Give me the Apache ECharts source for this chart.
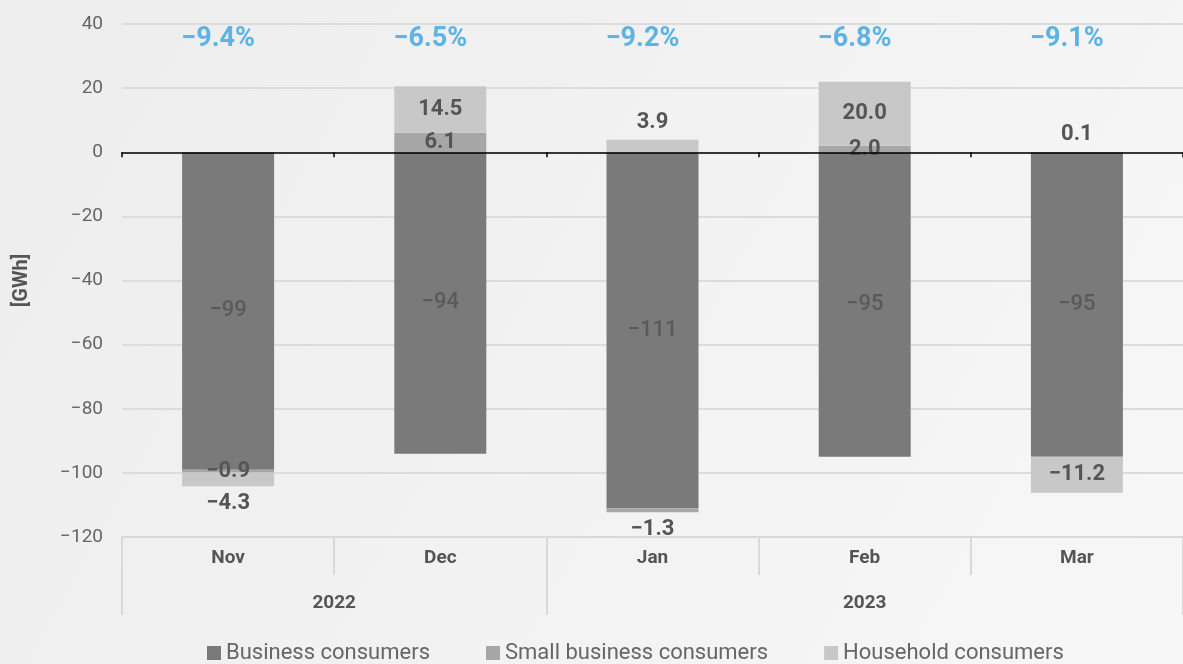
<!DOCTYPE html>
<html>
<head>
<meta charset="utf-8">
<script src="https://cdn.jsdelivr.net/npm/echarts@6/dist/echarts.min.js"></script>
<style>
  html, body { margin: 0; padding: 0; }
  #chart { width: 1183px; height: 664px; }
</style>
</head>
<body>
<div id="chart"></div>
<script>
const months = ['Nov', 'Dec', 'Jan', 'Feb', 'Mar'];
const years = ['2022', '2023'];
const yearSpans = [2, 3];
const pctChange = [-9.4, -6.5, -9.2, -6.8, -9.1];

const business = [-99, -94, -111, -95, -95];
const smallBusiness = [-0.9, 6.1, -1.3, 2.0, 0.1];
const household = [-4.3, 14.5, 3.9, 20.0, -11.2];

const FONT = 'Roboto';
const minus = (s) => String(s).replace('-', '\u2212');

// where each small label goes (picked per bar, like the original)
const smallPos = ['inside', 'inside', 'bottom', 'inside', 'top'];
const housePos = ['bottom', 'inside', 'top', 'inside', 'inside'];

// half-step category axis for the year row
const yearSlots = [];
const yearLabelAt = {};
const yearBounds = [0];
let start = 0;
years.forEach((y, i) => {
  yearLabelAt[start + yearSpans[i]] = y; // centre of the span, in half-month steps
  start += yearSpans[i] * 2;
  yearBounds.push(start);
});
for (let i = 0; i <= months.length * 2; i++) yearSlots.push('s' + i);

const withPos = (vals, pos) => vals.map((v, i) => ({
  value: v,
  label: { position: pos[i] }
}));

const chart = echarts.init(document.getElementById('chart'));

const option = {
  backgroundColor: {
    type: 'linear', x: 0, y: 0, x2: 1, y2: 1,
    colorStops: [{ offset: 0, color: '#ededed' }, { offset: 1, color: '#f7f7f7' }]
  },
  textStyle: { fontFamily: FONT },
  grid: { left: 122, right: 0, top: 24, bottom: 127 },
  legend: {
    top: 642,
    left: 207,
    padding: 0,
    icon: 'rect',
    itemWidth: 14,
    itemHeight: 14,
    itemGap: 56,
    textStyle: { fontSize: 22, color: '#666', fontFamily: FONT },
    data: ['Business consumers', 'Small business consumers', 'Household consumers']
  },
  xAxis: [
    {
      type: 'category',
      data: months,
      position: 'bottom',
      axisLine: { onZero: true, lineStyle: { color: '#000', width: 1.5 } },
      axisTick: { show: true, interval: 0, length: 5, lineStyle: { color: '#000', width: 1.5 } },
      axisLabel: { show: false },
      z: 10
    },
    {
      type: 'category',
      data: months,
      position: 'bottom',
      axisLine: { onZero: false, lineStyle: { color: '#d9d9d9', width: 2 } },
      axisTick: { show: true, interval: 0, length: 38, lineStyle: { color: '#d9d9d9', width: 2 } },
      axisLabel: { interval: 0, margin: 12, fontSize: 19, fontWeight: 'bold', color: '#555', fontFamily: FONT }
    },
    {
      type: 'category',
      data: yearSlots,
      boundaryGap: false,
      position: 'bottom',
      axisLine: { show: false, onZero: false },
      axisTick: {
        show: true, length: 78,
        interval: (i) => yearBounds.indexOf(i) >= 0,
        lineStyle: { color: '#d9d9d9', width: 2 }
      },
      axisLabel: {
        interval: (i) => yearLabelAt[i] !== undefined,
        formatter: (v, i) => yearLabelAt[i] || '',
        margin: 57, fontSize: 19, fontWeight: 'bold', color: '#555', fontFamily: FONT
      }
    },
    {
      type: 'category',
      data: pctChange.map(v => minus(v.toFixed(1)) + '%'),
      position: 'top',
      axisLine: { show: false },
      axisTick: { show: false },
      axisLabel: {
        inside: true, interval: 0, margin: 2,
        padding: [0, 20, 0, 0],
        fontSize: 27, fontWeight: 'bold', color: '#5cb3e6', fontFamily: FONT
      }
    }
  ],
  yAxis: {
    type: 'value',
    min: -120,
    max: 40,
    interval: 20,
    name: '[GWh]',
    nameLocation: 'middle',
    nameGap: 90,
    nameTextStyle: { fontSize: 20, fontWeight: 'bold', color: '#555', fontFamily: FONT },
    axisLine: { show: false },
    axisTick: { show: false },
    axisLabel: { margin: 19, fontSize: 19, color: '#666', fontFamily: FONT, formatter: (v) => minus(v) },
    splitLine: { lineStyle: { color: '#dcdcdc', width: 2 } }
  },
  series: [
    {
      name: 'Business consumers',
      type: 'bar',
      stack: 'total',
      barWidth: 92,
      data: business,
      itemStyle: { color: '#7a7a7a' },
      label: {
        show: true, position: 'inside',
        fontSize: 22, fontWeight: 500, color: '#5a5a5a', fontFamily: FONT,
        formatter: (p) => minus(p.value)
      }
    },
    {
      name: 'Small business consumers',
      type: 'bar',
      stack: 'total',
      data: withPos(smallBusiness, smallPos),
      itemStyle: { color: '#a6a6a6' },
      label: {
        show: true, distance: 6,
        fontSize: 22, fontWeight: 'bold', color: '#555', fontFamily: FONT,
        formatter: (p) => minus(p.value.toFixed(1))
      }
    },
    {
      name: 'Household consumers',
      type: 'bar',
      stack: 'total',
      data: withPos(household, housePos),
      itemStyle: { color: '#c8c8c8' },
      label: {
        show: true, distance: 6,
        fontSize: 22, fontWeight: 'bold', color: '#555', fontFamily: FONT,
        formatter: (p) => minus(p.value.toFixed(1))
      }
    }
  ]
};

chart.setOption(option);
</script>
</body>
</html>
